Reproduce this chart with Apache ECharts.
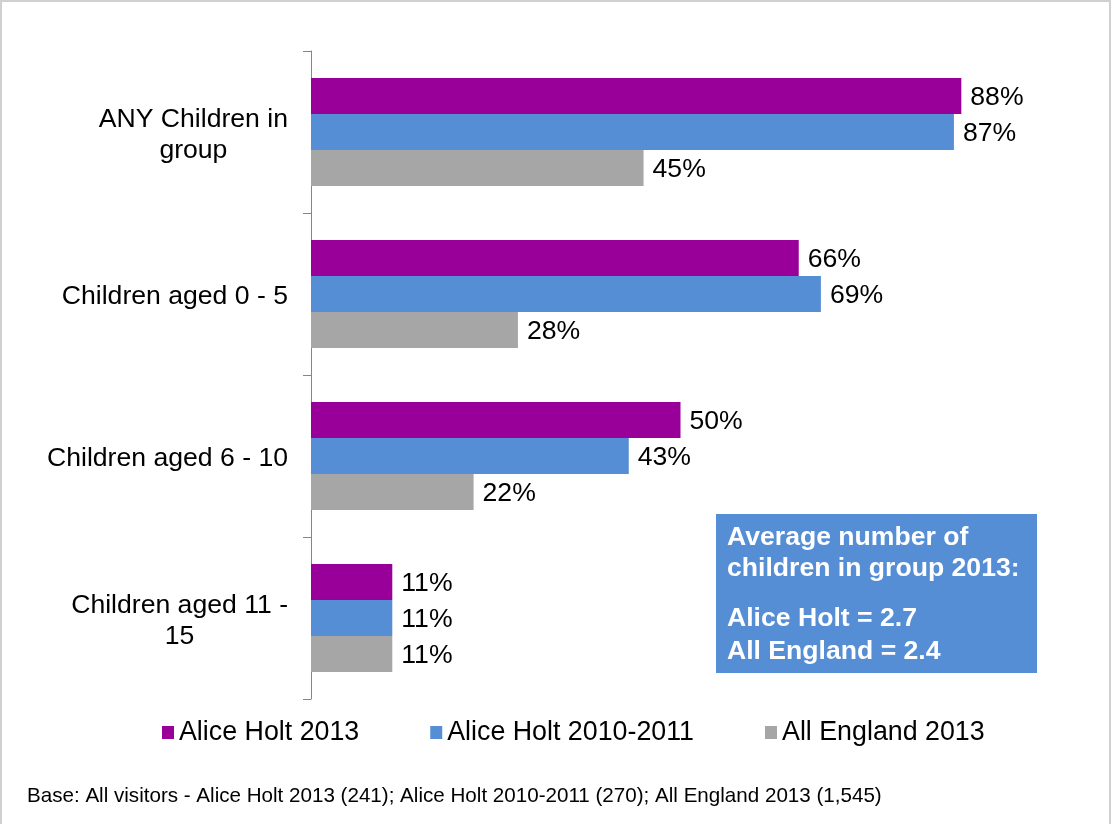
<!DOCTYPE html>
<html lang="en">
<head>
    <meta charset="UTF-8">
    <title>Children in group</title>
    <script src="https://cdn.jsdelivr.net/npm/echarts@6/dist/echarts.min.js"></script>
    <style>
        html, body { margin: 0; padding: 0; background: #fff; }
        #chart { width: 1113px; height: 824px; }
    </style>
</head>
<body>
<div id="chart"></div>
<script>
    // categories (top to bottom)
    const categories = ['ANY Children in\ngroup', 'Children aged 0 - 5', 'Children aged 6 - 10', 'Children aged 11 -\n15'];
    const seriesNames = ['Alice Holt 2013', 'Alice Holt 2010-2011', 'All England 2013'];
    const aliceHolt2013 = [88, 66, 50, 11];
    const aliceHolt2010 = [87, 69, 43, 11];
    const allEngland2013 = [45, 28, 22, 11];
    const colors = ['#990099', '#558ED5', '#A6A6A6'];

    const font = 'Arial, "Liberation Sans", sans-serif';
    const fs = 26.6;

    let chart = echarts.init(document.getElementById('chart'));

    const makeSeries = (name, data, color) => ({
        name: name,
        type: 'bar',
        data: data,
        barWidth: 36,
        barGap: '0%',
        itemStyle: { color: color },
        label: {
            show: true,
            position: 'right',
            distance: 9,
            offset: [0, 2],
            formatter: '{c}%',
            color: '#000',
            fontSize: fs,
            fontFamily: font
        }
    });

    chart.setOption({
        animation: false,
        grid: { left: 311, top: 51, width: 739, height: 648, containLabel: false },
        xAxis: {
            type: 'value',
            min: 0,
            max: 100,
            show: false
        },
        yAxis: {
            type: 'category',
            inverse: true,
            data: categories,
            axisLine: { lineStyle: { color: '#868686', width: 1 } },
            axisTick: { show: true, length: 8, lineStyle: { color: '#868686' } },
            axisLabel: {
                margin: 23,
                color: '#000',
                fontSize: fs,
                fontFamily: font,
                formatter: (v) => '{a|' + v + '}',
                rich: {
                    a: { align: 'center', fontSize: fs, lineHeight: 31, fontFamily: font, color: '#000', padding: [6, 0, 0, 0] }
                }
            }
        },
        legend: {
            left: 157,
            top: 714,
            itemWidth: 12,
            itemHeight: 13,
            itemGap: 71,
            icon: 'rect',
            textStyle: { fontSize: 26.8, fontFamily: font, color: '#000' },
            data: seriesNames
        },
        series: [
            makeSeries(seriesNames[0], aliceHolt2013, colors[0]),
            makeSeries(seriesNames[1], aliceHolt2010, colors[1]),
            makeSeries(seriesNames[2], allEngland2013, colors[2])
        ],
        graphic: [
            {
                type: 'rect',
                shape: { x: 1, y: 1, width: 1109, height: 840 },
                style: { fill: null, stroke: '#D0D0D0', lineWidth: 2 },
                silent: true
            },
            {
                type: 'rect',
                shape: { x: 716, y: 514, width: 321, height: 159 },
                style: { fill: '#558ED5' }
            },
            {
                type: 'text',
                left: 727,
                top: 522,
                style: {
                    text: 'Average number of\nchildren in group 2013:',
                    fill: '#fff',
                    font: 'bold ' + fs + 'px ' + font,
                    lineHeight: 31
                }
            },
            {
                type: 'text',
                left: 727,
                top: 602,
                style: {
                    text: 'Alice Holt = 2.7\nAll England = 2.4',
                    fill: '#fff',
                    font: 'bold ' + fs + 'px ' + font,
                    lineHeight: 33
                }
            },
            {
                type: 'text',
                left: 27,
                top: 786,
                style: {
                    text: 'Base: All visitors - Alice Holt 2013 (241); Alice Holt 2010-2011 (270); All England 2013 (1,545)',
                    fill: '#000',
                    font: '20.6px ' + font
                }
            }
        ]
    });
</script>
</body>
</html>
